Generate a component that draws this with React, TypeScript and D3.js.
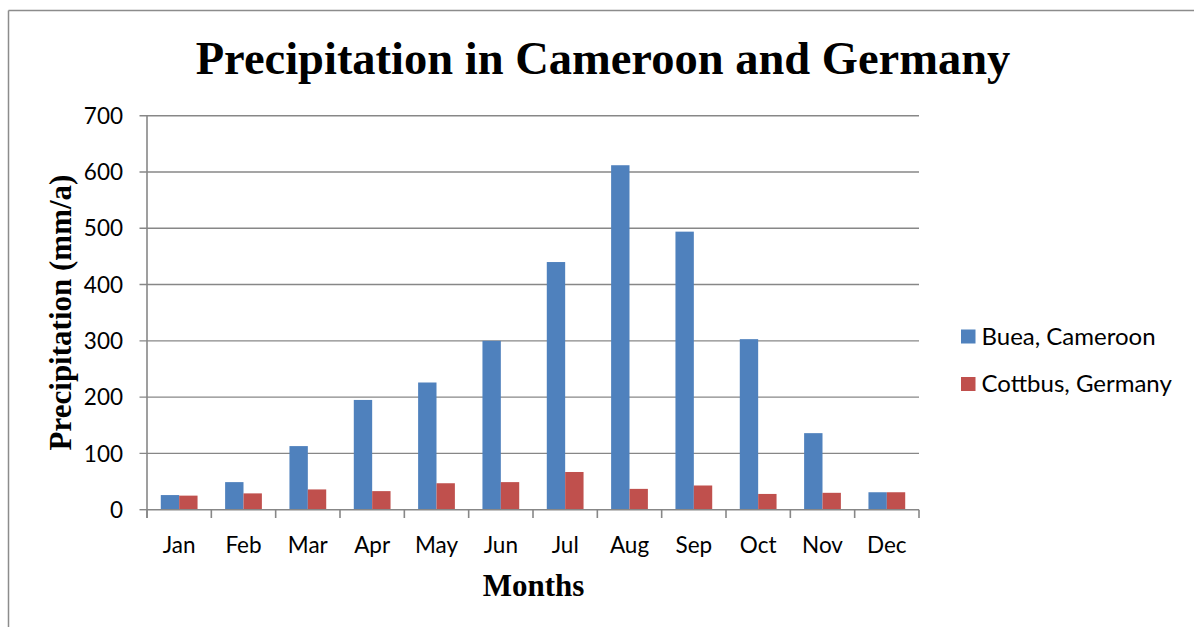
import React from "react";
import * as d3 from "d3";

const months = ["Jan", "Feb", "Mar", "Apr", "May", "Jun", "Jul", "Aug", "Sep", "Oct", "Nov", "Dec"];
const bueaCameroon = [26, 49, 113, 195, 226, 300, 440, 612, 494, 303, 136, 31];
const cottbusGermany = [25, 29, 36, 33, 47, 49, 67, 37, 43, 28, 30, 31];
const seriesNames = ["Buea, Cameroon", "Cottbus, Germany"];
const seriesColors = ["#4F81BD", "#C0504D"];
const yTicks = [0, 100, 200, 300, 400, 500, 600, 700];

const W = 1194;
const H = 627;
const plot = { left: 147, right: 919, top: 115.7, bottom: 509.7 };
const gridColor = "#878787";
const labelFont = "Lato, 'Open Sans', sans-serif";
const serif = "'Liberation Serif', 'Times New Roman', serif";

export default function App() {
  const x = d3.scaleBand<string>().domain(months).range([plot.left, plot.right]).paddingInner(0).paddingOuter(0);
  const step = x.bandwidth();
  const barW = step / 3.5;
  const y = d3.scaleLinear().domain([0, 700]).range([plot.bottom, plot.top]);
  const series = [bueaCameroon, cottbusGermany];

  return (
    <svg width={W} height={H} style={{ position: "absolute", left: 0, top: 0, background: "#fff" }}>
      <rect x={0} y={0} width={W} height={H} fill="#fff" />
      <line x1={8.5} y1={10.5} x2={W} y2={10.5} stroke="#8c8c8c" strokeWidth={1.5} />
      <line x1={8.5} y1={10.5} x2={8.5} y2={H} stroke="#8c8c8c" strokeWidth={1.5} />

      <text x={603} y={73.5} textAnchor="middle" fontFamily={serif} fontWeight="bold" fontSize={46.5} fill="#000">
        Precipitation in Cameroon and Germany
      </text>

      {yTicks.map((t) => (
        <g key={t}>
          {t > 0 && (
            <line x1={139.5} x2={plot.right} y1={y(t)} y2={y(t)} stroke={gridColor} strokeWidth={1.4} />
          )}
          {t === 0 && <line x1={139.5} x2={plot.left} y1={y(t)} y2={y(t)} stroke={gridColor} strokeWidth={1.4} />}
          <text x={123} y={y(t)} dy="0.36em" textAnchor="end" fontFamily={labelFont} fontSize={22.5} fill="#000">
            {t}
          </text>
        </g>
      ))}

      {months.map((m, i) =>
        series.map((s, k) => {
          const x0 = (x(m) as number) + step / 2 - barW + k * barW;
          return (
            <rect
              key={m + k}
              x={x0}
              y={y(s[i])}
              width={barW}
              height={y(0) - y(s[i])}
              fill={seriesColors[k]}
            />
          );
        })
      )}

      <line x1={plot.left} x2={plot.right} y1={y(0)} y2={y(0)} stroke={gridColor} strokeWidth={1.6} />
      <line x1={plot.left} x2={plot.left} y1={plot.top} y2={518} stroke={gridColor} strokeWidth={1.6} />
      {[...months.map((m) => x(m) as number), plot.right].map((xx, i) => (
        <line key={i} x1={xx} x2={xx} y1={y(0)} y2={518} stroke={gridColor} strokeWidth={1.6} />
      ))}

      {months.map((m) => (
        <text key={m} x={(x(m) as number) + step / 2} y={552.5} textAnchor="middle" fontFamily={labelFont} fontSize={22.5} fill="#000">
          {m}
        </text>
      ))}

      <text x={533.5} y={596} textAnchor="middle" fontFamily={serif} fontWeight="bold" fontSize={31} fill="#000">
        Months
      </text>
      <text
        transform={`translate(71,312.5) rotate(-90)`}
        textAnchor="middle"
        fontFamily={serif}
        fontWeight="bold"
        fontSize={31}
        fill="#000"
      >
        Precipitation (mm/a)
      </text>

      {seriesNames.map((n, k) => (
        <g key={n}>
          <rect x={961} y={329.5 + k * 47.5} width={14.5} height={14} fill={seriesColors[k]} />
          <text x={981.5} y={345 + k * 47} fontFamily={labelFont} fontSize={24} fill="#000">
            {n}
          </text>
        </g>
      ))}
    </svg>
  );
}
